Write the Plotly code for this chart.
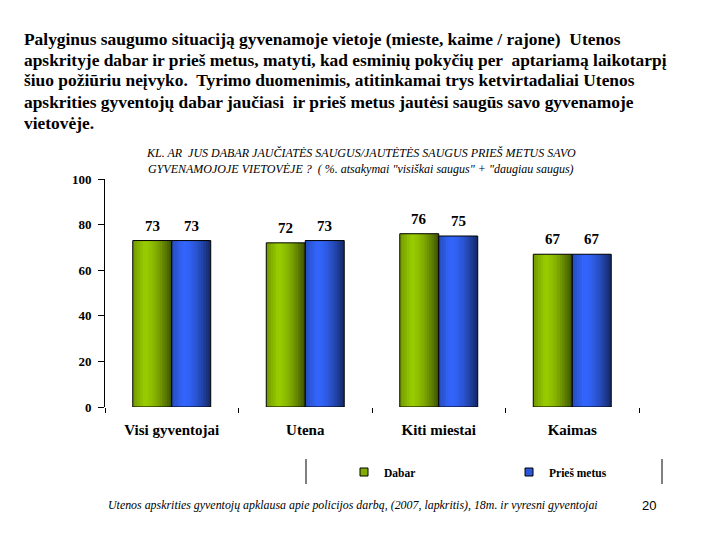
import plotly.graph_objects as go

# ---- data ----
categories = ["Visi gyventojai", "Utena", "Kiti miestai", "Kaimas"]
dabar = [73, 72, 76, 67]
pries_metus = [73, 73, 75, 67]
series_names = ["Dabar", "Prieš metus"]
y_ticks = [0, 20, 40, 60, 80, 100]

intro_lines = [
    "Palyginus saugumo situaciją gyvenamoje vietoje (mieste, kaime / rajone)  Utenos",
    "apskrityje dabar ir prieš metus, matyti, kad esminių pokyčių per  aptariamą laikotarpį",
    "šiuo požiūriu neįvyko.  Tyrimo duomenimis, atitinkamai trys ketvirtadaliai Utenos",
    "apskrities gyventojų dabar jaučiasi  ir prieš metus jautėsi saugūs savo gyvenamoje",
    "vietovėje.",
]
chart_title_lines = [
    "KL. AR  JUS DABAR JAUČIATĖS SAUGUS/JAUTĖTĖS SAUGUS PRIEŠ METUS SAVO",
    "GYVENAMOJOJE VIETOVĖJE ?  ( %. atsakymai \"visiškai saugus\" + \"daugiau saugus)",
]
footer_text = "Utenos apskrities gyventojų apklausa apie policijos darbą, (2007, lapkritis), 18m. ir vyresni gyventojai"
page_number = "20"

# ---- style ----
SERIF = "Liberation Serif"
SANS = "Liberation Sans"
GREEN = (153, 204, 0)
BLUE = (51, 102, 255)
BAR_W = 0.292
N_STRIPS = 16

W, H = 720, 540
L, R, T, B = 105, 81, 179, 133
PW, PH = W - L - R, H - T - B
CAT_PX = PW / len(categories)


def px(x):
    return (x - L) / PW


def py(y):
    return (H - B - y) / PH


def shade(t):
    if t < 0.3:
        return 0.74 + 0.26 * (t / 0.3)
    return 1.0 - 0.62 * ((t - 0.3) / 0.7) ** 1.6


def rgb(c, f=1.0):
    return "rgb(%d,%d,%d)" % tuple(min(255, round(v * f)) for v in c)


fig = go.Figure()
annotations = []
series = [(dabar, GREEN, -BAR_W, series_names[0]), (pries_metus, BLUE, 0.0, series_names[1])]
for vals, base, off0, name in series:
    sw = BAR_W / N_STRIPS
    for k in range(N_STRIPS):
        t = (k + 0.5) / N_STRIPS
        fig.add_trace(go.Bar(
            x=categories, y=vals, offset=off0 + k * sw,
            width=sw * (1.3 if k < N_STRIPS - 1 else 1.0),
            marker=dict(color=rgb(base, shade(t)), line=dict(width=0)),
            showlegend=False, hoverinfo="skip"))
    fig.add_trace(go.Bar(
        x=categories, y=vals, offset=off0, width=BAR_W,
        marker=dict(color="rgba(0,0,0,0)", line=dict(color="black", width=1)),
        showlegend=False, hoverinfo="skip"))
    fig.add_trace(go.Scatter(
        x=[None], y=[None], mode="markers", name=name,
        marker=dict(symbol="square", size=8, color=rgb(base, 0.85),
                    line=dict(color="black", width=1))))
    # value labels above each bar
    for cat, v in zip(categories, vals):
        annotations.append(dict(
            text=str(v), x=cat, y=v, xref="x", yref="y",
            xshift=(off0 + BAR_W / 2) * CAT_PX, yshift=15,
            xanchor="center", yanchor="middle", showarrow=False,
            font=dict(family=SERIF, size=15, color="black", weight="bold")))

for i, line in enumerate(intro_lines):
    annotations.append(dict(
        text="<b>" + line + "</b>", x=px(22), y=py(38.5 + i * 21), xref="paper", yref="paper",
        xanchor="left", yanchor="middle", showarrow=False,
        font=dict(family=SERIF, size=17.4, color="black")))
for i, line in enumerate(chart_title_lines):
    annotations.append(dict(
        text="<i>" + line + "</i>", x=px(361), y=py(153 + i * 16), xref="paper", yref="paper",
        xanchor="center", yanchor="middle", showarrow=False,
        font=dict(family=SERIF, size=12, color="black")))
annotations.append(dict(
    text="<i>" + footer_text + "</i>", x=px(106), y=py(505), xref="paper", yref="paper",
    xanchor="left", yanchor="middle", showarrow=False,
    font=dict(family=SERIF, size=11.9, color="black")))
annotations.append(dict(
    text=page_number, x=px(649), y=py(505), xref="paper", yref="paper",
    xanchor="center", yanchor="middle", showarrow=False,
    font=dict(family=SANS, size=13, color="black")))

shapes = []
for xv in (306, 662):
    shapes.append(dict(type="line", xref="paper", yref="paper",
                       x0=px(xv), x1=px(xv), y0=py(459), y1=py(484),
                       line=dict(color="black", width=1)))

fig.update_layout(
    width=W, height=H,
    margin=dict(l=L, r=R, t=T, b=B, pad=0),
    paper_bgcolor="white", plot_bgcolor="white",
    barmode="overlay",
    showlegend=True,
    legend=dict(orientation="h", x=px(344), y=py(472), xanchor="left", yanchor="middle",
                entrywidth=120, entrywidthmode="pixels",
                font=dict(family=SERIF, size=11.5, color="black", weight="bold"),
                bgcolor="rgba(0,0,0,0)", itemwidth=30, tracegroupgap=0),
    annotations=annotations,
    shapes=shapes,
    xaxis=dict(type="category", range=[-0.5, 3.5], showline=False, showgrid=False,
               zeroline=False, ticks="outside", tickson="boundaries", ticklen=5,
               tickcolor="black", tickwidth=1, ticklabelstandoff=12,
               tickfont=dict(family=SERIF, size=15, color="black", weight="bold")),
    yaxis=dict(range=[0, 100], tickvals=y_ticks, showline=True, linecolor="black",
               linewidth=1, showgrid=False, zeroline=False, ticks="outside", ticklen=6,
               tickcolor="black", ticklabelstandoff=4,
               tickfont=dict(family=SERIF, size=13, color="black", weight="bold")),
)

fig.write_html("out.html")
